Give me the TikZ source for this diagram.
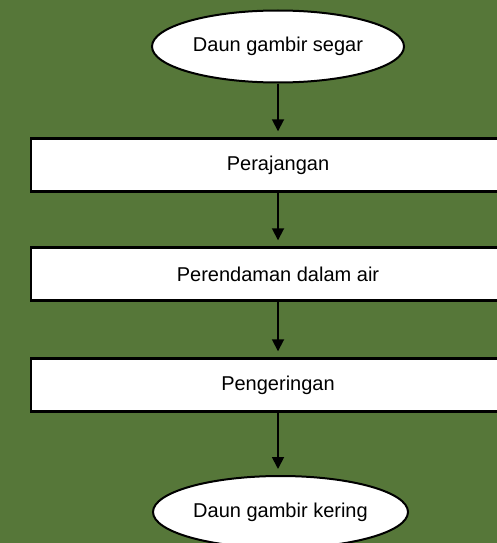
\documentclass[tikz,border=0pt]{standalone}
\usepackage{fontspec}
\setmainfont{Liberation Sans}
\usepackage{tikz}
\usetikzlibrary{arrows.meta,positioning,shapes.geometric}
\definecolor{bggreen}{RGB}{86,119,57}

\begin{document}
\begin{tikzpicture}[
  x=1pt,y=-1pt,
  >={Triangle[length=12pt,width=12pt]},
  box/.style={draw=black,fill=white,line width=2.4pt,inner sep=0pt,
    font=\fontsize{20}{24}\selectfont},
  proc/.style={box,rectangle,minimum width=494pt,minimum height=53pt},
  term/.style={box,ellipse,line width=2pt,minimum width=252pt,minimum height=72pt},
  flow/.style={->,line width=1.8pt,shorten >=6pt}
]
  \useasboundingbox (0,0) rectangle (497,543);
  \fill[bggreen] (0,0) rectangle (497,543);
  \clip (0,0) rectangle (497,543);

  \node[term] (segar)  at (278,46.5) {Daun gambir segar};
  \node[proc] (rajang) at (278,165)  {Perajangan};
  \node[proc] (rendam) at (278,274)  {Perendaman dalam air};
  \node[proc] (kering) at (278,385)  {Pengeringan};
  \node[term,minimum width=255pt] (hasil) at (280.5,512) {Daun gambir kering};

  \draw[flow] (segar) -- (rajang);
  \draw[flow] (rajang) -- (rendam);
  \draw[flow] (rendam) -- (kering);
  \draw[flow] (kering.south) -- (kering.south |- hasil.north);
\end{tikzpicture}
\end{document}
